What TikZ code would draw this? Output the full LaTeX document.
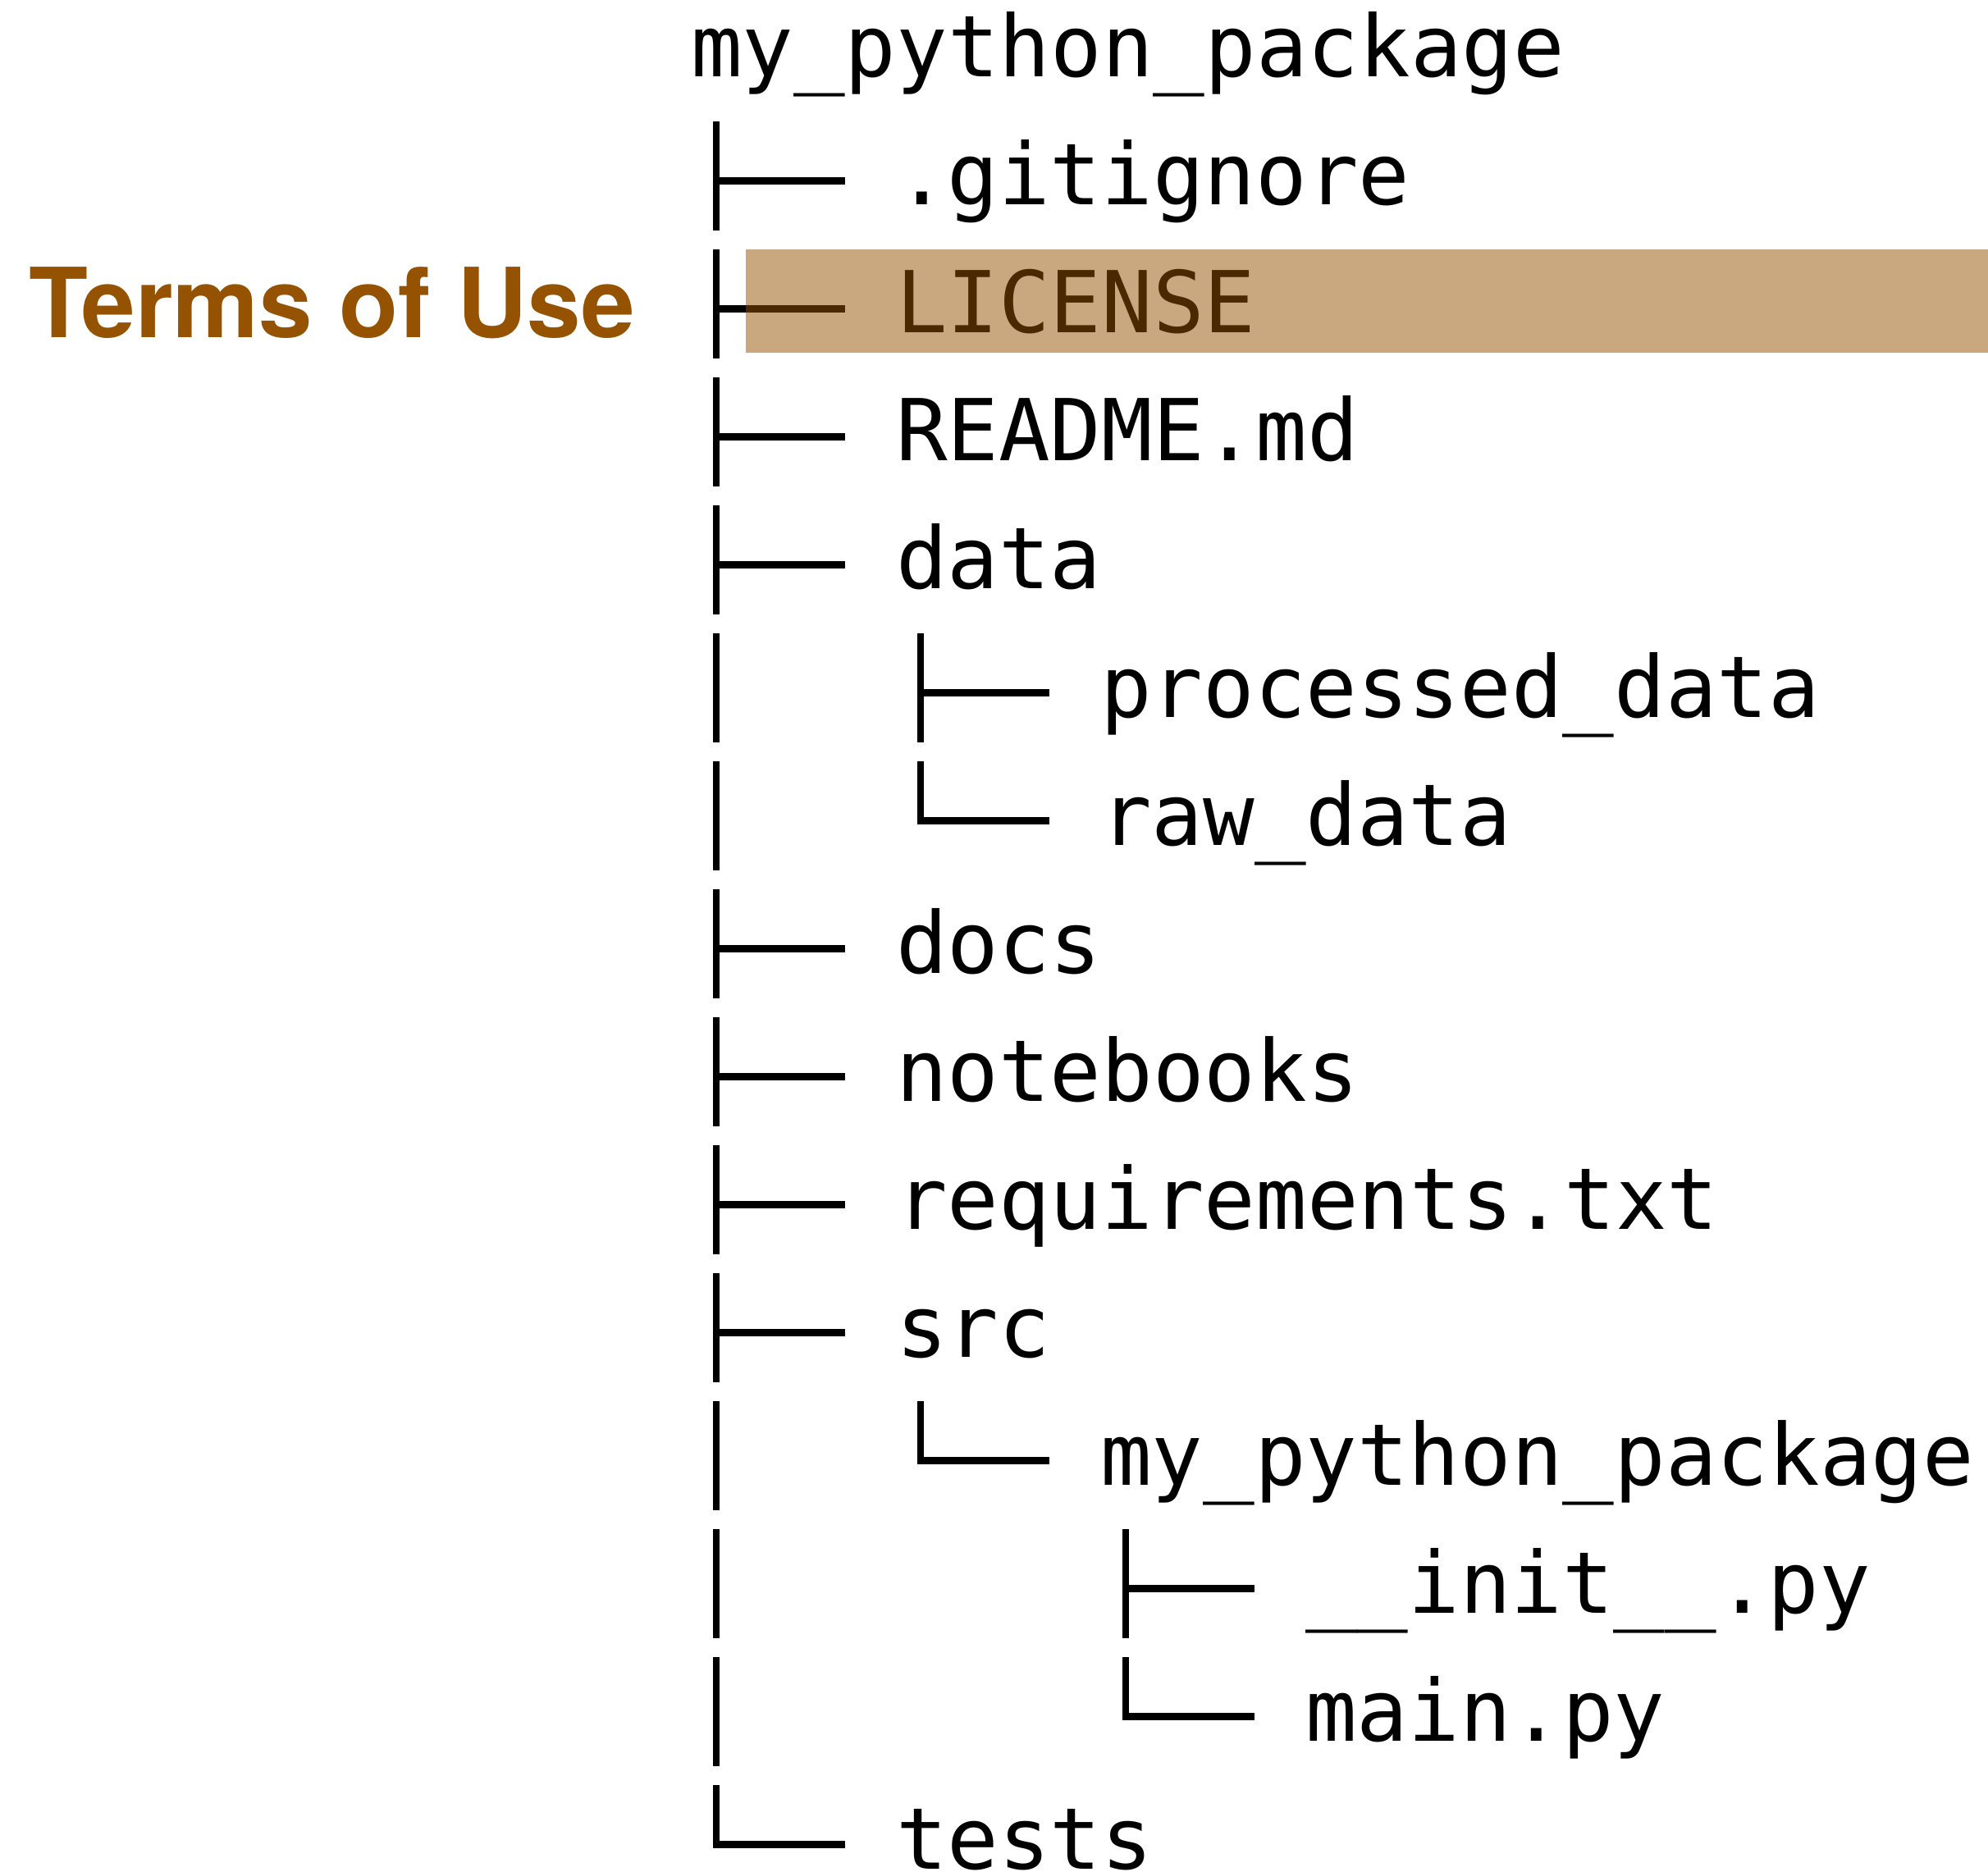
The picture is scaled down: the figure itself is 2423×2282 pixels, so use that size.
\documentclass[tikz,border=0pt]{standalone}
\usepackage{fontspec}
\usepackage{xcolor}
\usepackage{tikz}
\newfontfamily\treefont{DejaVu Sans Mono}
\newfontfamily\termsfont{TeX Gyre Heros}
\definecolor{termsbrown}{RGB}{149,82,0}

\newcommand{\treetee}[1]{%
	\draw[trunkline] ([shift={(-219,-102)}]#1.base west) -- ++(0,133);
	\draw[twigline] ([shift={(-219,-29.5)}]#1.base west) -- ++(157,0);
}
\newcommand{\treeelbow}[1]{%
	\draw[trunkline] ([shift={(-219,-102)}]#1.base west) -- ++(0,77);
	\draw[twigline] ([shift={(-223,-29.5)}]#1.base west) -- ++(161,0);
}
\newcommand{\treepipe}[2]{%
	\draw[trunkline] ([shift={(#2,-102)}]#1.base west) -- ++(0,133);
}

\begin{document}
\begin{tikzpicture}[x=0.01cm, y=-0.01cm,
		entry/.style={anchor=base west, inner sep=0pt, outer sep=0pt, font=\treefont\fontsize{29.6}{30}\selectfont},
		trunkline/.style={line width=0.08cm},
		twigline/.style={line width=0.09cm}]

	\useasboundingbox (0,0) rectangle (2423,2282);

	\node[entry] (root) at (842,94) {my\_python\_package};

	\node[entry] (gitignore) at (1092,250) {.gitignore};
	\node[entry] (license) at (1092,406) {LICENSE};
	\node[entry] (readme) at (1092,562) {README.md};
	\node[entry] (data) at (1092,718) {data};
	\node[entry] (processed) at (1341,874) {processed\_data};
	\node[entry] (raw) at (1341,1030) {raw\_data};
	\node[entry] (docs) at (1092,1186) {docs};
	\node[entry] (notebooks) at (1092,1342) {notebooks};
	\node[entry] (requirements) at (1092,1498) {requirements.txt};
	\node[entry] (src) at (1092,1654) {src};
	\node[entry] (pkg) at (1341,1810) {my\_python\_package};
	\node[entry] (init) at (1591,1966) {\_\_init\_\_.py};
	\node[entry] (mainpy) at (1591,2122) {main.py};
	\node[entry] (tests) at (1092,2278) {tests};

	\treetee{gitignore}
	\treetee{license}
	\treetee{readme}
	\treetee{data}
	\treepipe{processed}{-468}
	\treetee{processed}
	\treepipe{raw}{-468}
	\treeelbow{raw}
	\treetee{docs}
	\treetee{notebooks}
	\treetee{requirements}
	\treetee{src}
	\treepipe{pkg}{-468}
	\treeelbow{pkg}
	\treepipe{init}{-718}
	\treetee{init}
	\treepipe{mainpy}{-718}
	\treeelbow{mainpy}
	\treeelbow{tests}

	\fill[termsbrown, fill opacity=0.5] (909,304) rectangle (2423,430);

	\node[anchor=base west, inner sep=0pt, text=termsbrown, font=\termsfont\bfseries\fontsize{33.5}{34}\selectfont] (terms) at (35,412) {Terms of Use};

\end{tikzpicture}
\end{document}
